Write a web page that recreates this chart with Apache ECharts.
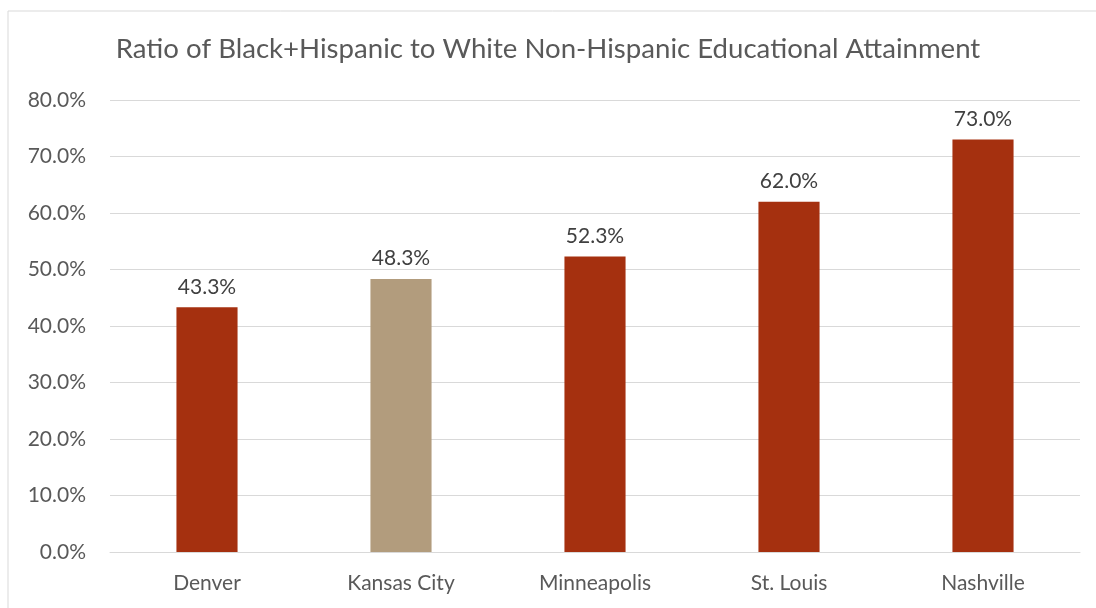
<!DOCTYPE html>
<html lang="en">
<head>
    <meta charset="UTF-8">
    <title>Educational Attainment Ratio</title>
    <script src="https://cdn.jsdelivr.net/npm/echarts@6/dist/echarts.min.js"></script>
    <style>
        body { margin: 0; background: #fff; }
        #main { width: 1096px; height: 608px; }
    </style>
</head>
<body>
<div id="main"></div>
<script>
    var cities = ['Denver', 'Kansas City', 'Minneapolis', 'St. Louis', 'Nashville'];
    var ratios = [43.3, 48.3, 52.3, 62.0, 73.0];
    var barColors = ['#A5300F', '#B29C7D', '#A5300F', '#A5300F', '#A5300F'];

    var myChart = echarts.init(document.getElementById('main'));
    var font = 'Lato, "Open Sans", sans-serif';

    var option = {
        backgroundColor: '#fff',
        animation: false,
        title: {
            text: 'Ratio of Black+Hispanic to White Non-Hispanic Educational Attainment',
            left: 'center',
            top: 30,
            textStyle: { color: '#595959', fontSize: 27.6, fontWeight: 'normal', fontFamily: font }
        },
        // outer chart border (top/left visible in the picture)
        graphic: [{
            type: 'rect',
            shape: { x: 8, y: 11, width: 1200, height: 700 },
            style: { fill: 'none', stroke: '#d9d9d9', lineWidth: 1 }
        }],
        grid: { left: 110, right: 16, top: 100, bottom: 56 },
        xAxis: {
            type: 'category',
            data: cities,
            axisTick: { show: false },
            axisLine: { lineStyle: { color: '#d9d9d9', width: 1 } },
            axisLabel: { color: '#595959', fontSize: 21, fontFamily: font, margin: 21 }
        },
        yAxis: {
            type: 'value',
            min: 0,
            max: 80,
            interval: 10,
            axisLine: { show: false },
            axisTick: { show: false },
            splitLine: { lineStyle: { color: '#d9d9d9', width: 1 } },
            axisLabel: {
                color: '#595959', fontSize: 21, fontFamily: font, margin: 24,
                formatter: function (v) { return v.toFixed(1) + '%'; }
            }
        },
        series: [{
            type: 'bar',
            barWidth: '31.5%',
            data: ratios.map(function (v, i) {
                return { value: v, itemStyle: { color: barColors[i] } };
            }),
            label: {
                show: true,
                position: 'top',
                distance: 10,
                color: '#404040',
                fontSize: 21,
                fontFamily: font,
                formatter: function (p) { return p.value.toFixed(1) + '%'; }
            }
        }]
    };

    myChart.setOption(option);
</script>
</body>
</html>
